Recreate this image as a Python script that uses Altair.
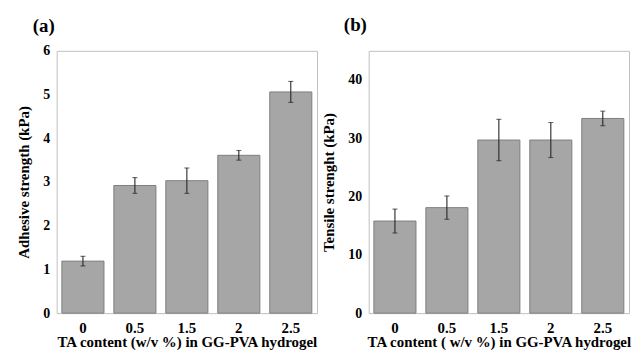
import altair as alt
import pandas as pd

conc = ["0", "0.5", "1.5", "2", "2.5"]
adhesive = [1.19, 2.92, 3.03, 3.61, 5.06]
adhesive_err = [0.11, 0.18, 0.29, 0.11, 0.24]
tensile = [15.8, 18.1, 29.7, 29.7, 33.4]
tensile_err = [2.05, 2.0, 3.55, 3.0, 1.25]

FONT = "Liberation Serif"
BAR_FILL = "#a6a6a6"
BAR_STROKE = "#7f7f7f"
ERR = "#262626"
W = 262
H = 264


def panel(vals, errs, label, ytitle, xtitle, ydomain, yticks, dx, offset):
    df = pd.DataFrame({
        "c": conc,
        "v": vals,
        "lo": [v - e for v, e in zip(vals, errs)],
        "hi": [v + e for v, e in zip(vals, errs)],
    })
    x = alt.X("c:N", sort=conc, title=xtitle,
              scale=alt.Scale(paddingInner=0.19, paddingOuter=0.1),
              axis=alt.Axis(labelAngle=0, domain=False, ticks=False,
                            labelPadding=7, titlePadding=0))
    yscale = alt.Scale(domain=ydomain, nice=False)
    bars = alt.Chart(df).mark_bar(fill=BAR_FILL, stroke=BAR_STROKE, strokeWidth=1).encode(
        x=x,
        y=alt.Y("v:Q", scale=yscale, title=ytitle,
                axis=alt.Axis(values=yticks, grid=False, domain=False, ticks=False,
                              labelPadding=7, titlePadding=11)),
    )
    rule = alt.Chart(df).mark_rule(color=ERR, strokeWidth=1.1).encode(
        x=alt.X("c:N", sort=conc), y="lo:Q", y2="hi:Q")
    cap_lo = alt.Chart(df).mark_tick(color=ERR, thickness=1.1, size=5).encode(
        x=alt.X("c:N", sort=conc), y="lo:Q")
    cap_hi = alt.Chart(df).mark_tick(color=ERR, thickness=1.1, size=5).encode(
        x=alt.X("c:N", sort=conc), y="hi:Q")
    return alt.layer(bars, rule, cap_lo, cap_hi).properties(
        width=W, height=H,
        title=alt.TitleParams(label, anchor="start", frame="group", dx=dx, offset=offset,
                              fontSize=19, font=FONT, fontWeight="bold", color="black"),
    )


a = panel(adhesive, adhesive_err, "(a)", "Adhesive strength (kPa)",
          "TA content (w/v %) in GG-PVA hydrogel", [0, 6], [0, 1, 2, 3, 4, 5, 6], -24, 8)
b = panel(tensile, tensile_err, "(b)", "Tensile strenght (kPa)",
          "TA content ( w/v %) in GG-PVA hydrogel", [0, 45], [0, 10, 20, 30, 40], -25, 16)

chart = alt.hconcat(a, b, spacing=52, bounds="flush").properties(
    padding={"left": 8, "top": 6, "right": 0, "bottom": 0},
    background="white",
).configure_view(stroke="#bfbfbf", strokeWidth=1).configure_axis(
    labelFont=FONT, titleFont=FONT, labelFontSize=14, titleFontSize=15,
    labelFontWeight="bold", titleFontWeight="bold",
    labelColor="black", titleColor="black",
).configure_axisX(labelFontSize=15)

chart.save("out.html", embed_options={"renderer": "svg", "actions": False})
